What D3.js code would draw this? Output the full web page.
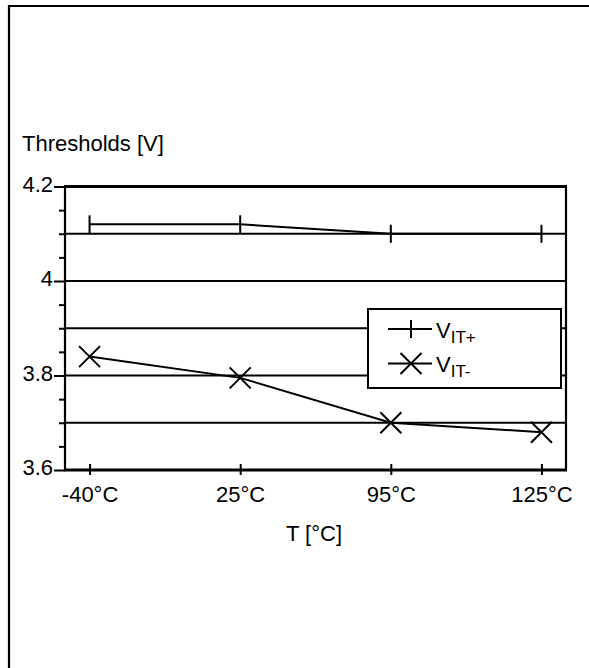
<!DOCTYPE html>
<html>
<head>
<meta charset="utf-8">
<script src="https://cdn.jsdelivr.net/npm/d3@7"></script>
<style>
	html,body{margin:0;padding:0;background:#fff;}
	svg{display:block;}
</style>
</head>
<body>
<div id="chart"></div>
<script>
var categories=['-40°C','25°C','95°C','125°C'];
var vitPlus=[4.12,4.12,4.10,4.10];	//V_IT+
var vitMinus=[3.84,3.795,3.70,3.68];	//V_IT-
var yLabelTicks=[3.6,3.8,4.0,4.2];
var yGridTicks=[3.7,3.8,3.9,4.0,4.1];
var yMinorTicks=[3.65,3.7,3.75,3.85,3.9,3.95,4.05,4.1,4.15];

var W=589,H=668;
var iLeft=65,iRight=566,iTop=186.5,iBottom=470;
var sFont='"Liberation Sans",Arial,Helvetica,sans-serif';
var sSize='22px';

var oSvg=d3.select('#chart').append('svg')
	.attr('width',W).attr('height',H)
	.attr('font-family',sFont)
	.attr('font-size',sSize);

//outer frame (cut by the page)
oSvg.append('path')
	.attr('d','M9 '+H+'V6H'+W)
	.attr('fill','none').attr('stroke','#000').attr('stroke-width',2.2);

var x=d3.scalePoint().domain(categories).range([iLeft,iRight]).padding(0.163);
var y=d3.scaleLinear().domain([3.6,4.2]).range([iBottom,iTop]);

//----------------------------- grid -----------------------------
oSvg.append('g').selectAll('line').data(yGridTicks).join('line')
	.attr('x1',iLeft).attr('x2',iRight)
	.attr('y1',function(d){return y(d)}).attr('y2',function(d){return y(d)})
	.attr('stroke','#000').attr('stroke-width',2);

//----------------------------- y axis -----------------------------
var oYMinor=oSvg.append('g').attr('transform','translate('+iLeft+',0)')
	.call(d3.axisLeft(y).tickValues(yMinorTicks).tickSize(6).tickFormat(''));
var oYAxis=oSvg.append('g').attr('transform','translate('+iLeft+',0)')
	.call(d3.axisLeft(y).tickValues(yLabelTicks).tickSize(11).tickPadding(1)
		.tickFormat(function(d){return d3.format('~g')(d)}));
[oYMinor,oYAxis].forEach(function(g){
	g.select('.domain').remove();
	g.selectAll('.tick line').attr('stroke','#000').attr('stroke-width',2);
});
oYAxis.selectAll('.tick text')
	.attr('fill','#000').attr('font-family',sFont).attr('font-size',sSize)
	.attr('dy',null).attr('y',4.5);

//----------------------------- x axis -----------------------------
var oXAxis=oSvg.append('g').attr('transform','translate(0,'+iBottom+')')
	.call(d3.axisBottom(x).tickSize(5));
oXAxis.select('.domain').remove();
oXAxis.selectAll('.tick line').attr('y1',-6).attr('y2',5)
	.attr('stroke','#000').attr('stroke-width',2);
oXAxis.selectAll('.tick text')
	.attr('fill','#000').attr('font-family',sFont).attr('font-size',sSize)
	.attr('dy',null).attr('y',32);

//plot frame
oSvg.append('line').attr('x1',iLeft).attr('x2',iLeft).attr('y1',iTop).attr('y2',iBottom)
	.attr('stroke','#000').attr('stroke-width',2.2);
oSvg.append('line').attr('x1',iRight).attr('x2',iRight).attr('y1',iTop).attr('y2',iBottom)
	.attr('stroke','#000').attr('stroke-width',2.2);
oSvg.append('line').attr('x1',iLeft-1).attr('x2',iRight+1).attr('y1',iTop).attr('y2',iTop)
	.attr('stroke','#000').attr('stroke-width',3);
oSvg.append('line').attr('x1',iLeft-1).attr('x2',iRight+1).attr('y1',iBottom).attr('y2',iBottom)
	.attr('stroke','#000').attr('stroke-width',3);

//----------------------------- series -----------------------------
var line=d3.line().x(function(d,i){return x(categories[i])}).y(function(d){return y(d)});

oSvg.append('path').datum(vitPlus).attr('d',line)
	.attr('fill','none').attr('stroke','#000').attr('stroke-width',2);
oSvg.append('path').datum(vitMinus).attr('d',line)
	.attr('fill','none').attr('stroke','#000').attr('stroke-width',2);

function tickMark(g,cx,cy){	//vertical bar marker
	g.append('line').attr('x1',cx).attr('x2',cx).attr('y1',cy-9).attr('y2',cy+9)
		.attr('stroke','#000').attr('stroke-width',2);
}
function crossMark(g,cx,cy){	//X marker
	var r=10.5;
	g.append('path').attr('d','M'+(cx-r)+' '+(cy-r)+'L'+(cx+r)+' '+(cy+r)+'M'+(cx-r)+' '+(cy+r)+'L'+(cx+r)+' '+(cy-r))
		.attr('stroke','#000').attr('stroke-width',2).attr('fill','none');
}
var oMarks=oSvg.append('g');
vitPlus.forEach(function(v,i){tickMark(oMarks,x(categories[i]),y(v))});
vitMinus.forEach(function(v,i){crossMark(oMarks,x(categories[i]),y(v))});

//----------------------------- legend -----------------------------
var oLegend=oSvg.append('g');
oLegend.append('rect').attr('x',368).attr('y',309).attr('width',193).attr('height',79)
	.attr('fill','#fff').attr('stroke','#000').attr('stroke-width',2);
[{y:329,sub:'IT+',mark:tickMark},{y:363.5,sub:'IT-',mark:crossMark}].forEach(function(o){
	oLegend.append('line').attr('x1',388).attr('x2',432).attr('y1',o.y).attr('y2',o.y)
		.attr('stroke','#000').attr('stroke-width',2);
	o.mark(oLegend,411,o.y);
	var t=oLegend.append('text').attr('x',436).attr('y',o.y+8.5).attr('fill','#000');
	t.append('tspan').text('V');
	t.append('tspan').attr('dy',5).attr('font-size','17px').text(o.sub);
});

//----------------------------- titles -----------------------------
oSvg.append('text').attr('x',22).attr('y',150.5).attr('fill','#000').text('Thresholds [V]');
oSvg.append('text').attr('x',314).attr('y',541).attr('text-anchor','middle').attr('fill','#000').text('T [°C]');
</script>
</body>
</html>
